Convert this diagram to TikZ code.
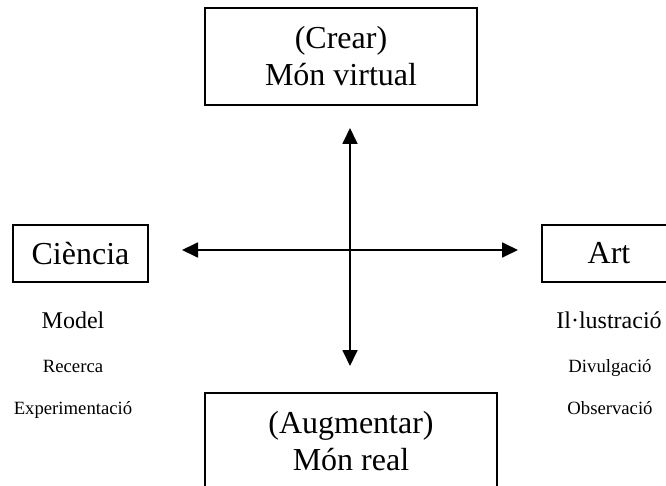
\documentclass[tikz,border=0pt]{standalone}
\usepackage{fontspec}
\setmainfont{Liberation Serif}
\usetikzlibrary{arrows.meta,positioning}

\begin{document}
\begin{tikzpicture}[
        x=1pt, y=-1pt,
        box/.style={rectangle, draw, line width=1.5pt, inner sep=0pt, align=center, font=\fontsize{32}{37}\selectfont},
        arrow/.style={{Triangle[length=16pt,width=15pt]}-{Triangle[length=16pt,width=15pt]}, line width=1.8pt},
        subterm/.style={anchor=base, inner sep=0pt, font=\fontsize{18.7}{22}\selectfont},
        term/.style={subterm, font=\fontsize{24}{28}\selectfont}
    ]

    % Page frame
    \fill[white] (0,0) rectangle (666,486);
    \useasboundingbox (0,0) rectangle (666,486);

    % Top and bottom boxes (the bottom one runs off the page)
    \node[box, minimum width=272pt, minimum height=97pt] (virtual) at (341,56.5) {(Crear)\\M\'on virtual};
    \node[box, anchor=north, minimum width=292pt, minimum height=97pt] (real) at (351,392) {(Augmentar)\\M\'on real};

    % Side boxes
    \node[box, minimum width=135pt, minimum height=57pt] (ciencia) at (80.5,253.5) {Ci\`encia};
    \node[box, minimum width=134pt, minimum height=57pt] (art) at (609,253.5) {Art};

    % Science side
    \node[term] (model) at (73,328) {Model};
    \node[subterm] (recerca) at (73,372) {Recerca};
    \node[subterm] (experimentacio) at (73,414.5) {Experimentaci\'o};

    % Art side
    \node[term] (illustracio) at (609,328) {Il·lustraci\'o};
    \node[subterm] (divulgacio) at (610,372) {Divulgaci\'o};
    \node[subterm] (observacio) at (610,414.5) {Observaci\'o};

    % Axes
    \coordinate (top-end) at (350,128);
    \coordinate (bottom-end) at (350,366);
    \coordinate (left-end) at (182,250);
    \coordinate (right-end) at (518,250);
    \draw[arrow] (top-end) -- (bottom-end);
    \draw[arrow] (left-end) -- (right-end);

\end{tikzpicture}
\end{document}
